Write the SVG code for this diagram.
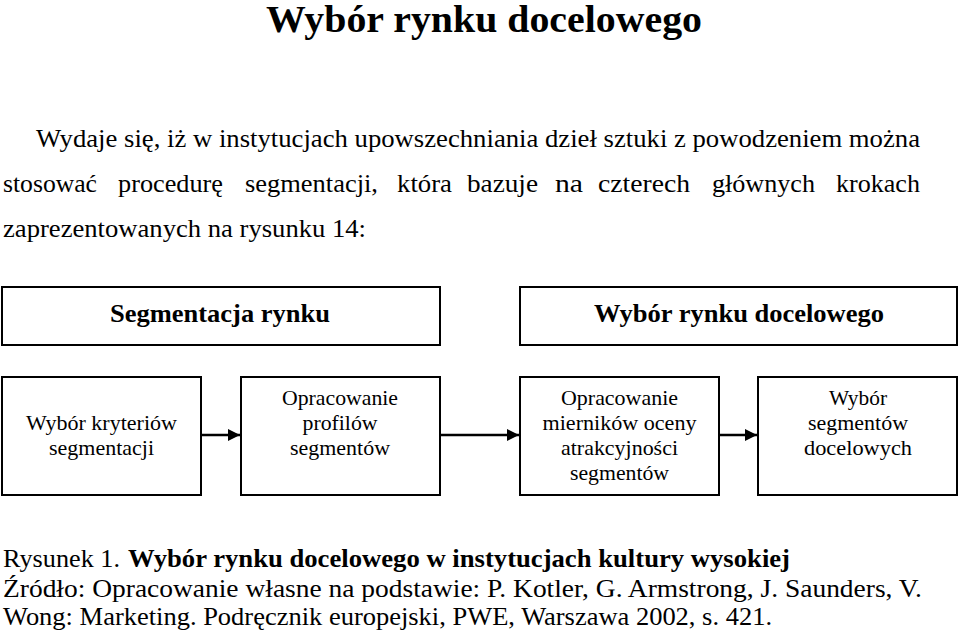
<svg xmlns="http://www.w3.org/2000/svg" width="959" height="636" viewBox="0 0 959 636">
<style>
  text { font-family: "Liberation Serif", "Times New Roman", serif; fill: #000; }
  .title { font-size: 37px; font-weight: bold; }
  .para { font-size: 26px; }
  .head { font-size: 26px; font-weight: bold; text-anchor: middle; }
  .box { font-size: 21px; text-anchor: middle; }
  .cap { font-size: 26px; }
  .b { font-weight: bold; }
  rect { fill: #fff; stroke: #000; stroke-width: 2; }
  .conn line { stroke: #000; stroke-width: 2.5; }
</style>
<defs>
  <marker id="arr" viewBox="0 0 10 10" refX="10" refY="5" markerWidth="5" markerHeight="5" orient="auto" markerUnits="strokeWidth">
    <path d="M0,0 L10,5 L0,10 z" fill="#000"/>
  </marker>
</defs>
<rect x="0" y="0" width="959" height="636" style="fill:#fff;stroke:none"/>

<text class="title" x="266" y="32" textLength="436" lengthAdjust="spacingAndGlyphs">Wybór rynku docelowego</text>

<g id="paragraph">
  <text class="para" x="36" y="147" textLength="884" lengthAdjust="spacingAndGlyphs">Wydaje się, iż w instytucjach upowszechniania dzieł sztuki z powodzeniem można</text>
  <text class="para" y="192"><tspan x="3" textLength="94" lengthAdjust="spacingAndGlyphs">stosować</tspan><tspan x="118" textLength="105" lengthAdjust="spacingAndGlyphs">procedurę</tspan><tspan x="245" textLength="133" lengthAdjust="spacingAndGlyphs">segmentacji,</tspan><tspan x="397" textLength="55" lengthAdjust="spacingAndGlyphs">która</tspan><tspan x="467" textLength="71" lengthAdjust="spacingAndGlyphs">bazuje</tspan><tspan x="555" textLength="28" lengthAdjust="spacingAndGlyphs">na</tspan><tspan x="598" textLength="92" lengthAdjust="spacingAndGlyphs">czterech</tspan><tspan x="712" textLength="103" lengthAdjust="spacingAndGlyphs">głównych</tspan><tspan x="836" textLength="84" lengthAdjust="spacingAndGlyphs">krokach</tspan></text>
  <text class="para" x="3" y="237" textLength="363" lengthAdjust="spacingAndGlyphs">zaprezentowanych na rysunku 14:</text>
</g>

<g id="segmentacja">
  <rect x="2" y="287" width="438" height="58"/>
  <text class="head" x="220" y="322" textLength="220" lengthAdjust="spacingAndGlyphs">Segmentacja rynku</text>
</g>
<g id="wybor-rynku">
  <rect x="520" y="287" width="437" height="58"/>
  <text class="head" x="739" y="322" textLength="290" lengthAdjust="spacingAndGlyphs">Wybór rynku docelowego</text>
</g>

<g id="n1">
  <rect x="2" y="377" width="199" height="118"/>
  <text class="box" x="101.5" y="430" textLength="151" lengthAdjust="spacingAndGlyphs">Wybór kryteriów</text>
  <text class="box" x="101.5" y="455" textLength="105" lengthAdjust="spacingAndGlyphs">segmentacji</text>
</g>
<g id="n2">
  <rect x="241" y="377" width="199" height="118"/>
  <text class="box" x="340" y="405" textLength="116" lengthAdjust="spacingAndGlyphs">Opracowanie</text>
  <text class="box" x="340" y="430" textLength="75" lengthAdjust="spacingAndGlyphs">profilów</text>
  <text class="box" x="340" y="455" textLength="100" lengthAdjust="spacingAndGlyphs">segmentów</text>
</g>
<g id="n3">
  <rect x="520" y="377" width="199" height="118"/>
  <text class="box" x="619.5" y="405" textLength="117" lengthAdjust="spacingAndGlyphs">Opracowanie</text>
  <text class="box" x="619.5" y="430" textLength="154" lengthAdjust="spacingAndGlyphs">mierników oceny</text>
  <text class="box" x="619.5" y="455" textLength="117" lengthAdjust="spacingAndGlyphs">atrakcyjności</text>
  <text class="box" x="619.5" y="480" textLength="99" lengthAdjust="spacingAndGlyphs">segmentów</text>
</g>
<g id="n4">
  <rect x="758" y="377" width="199" height="118"/>
  <text class="box" x="858" y="405" textLength="58" lengthAdjust="spacingAndGlyphs">Wybór</text>
  <text class="box" x="858" y="430" textLength="100" lengthAdjust="spacingAndGlyphs">segmentów</text>
  <text class="box" x="858" y="455" textLength="108" lengthAdjust="spacingAndGlyphs">docelowych</text>
</g>

<g class="conn" id="connectors">
  <line x1="201" y1="435" x2="240" y2="435" marker-end="url(#arr)"/>
  <line x1="440" y1="435" x2="519" y2="435" marker-end="url(#arr)"/>
  <line x1="719" y1="435" x2="757" y2="435" marker-end="url(#arr)"/>
</g>

<g id="caption">
  <text class="cap" y="567"><tspan x="3" textLength="117" lengthAdjust="spacingAndGlyphs">Rysunek 1.</tspan><tspan class="b" x="128" textLength="662" lengthAdjust="spacingAndGlyphs">Wybór rynku docelowego w instytucjach kultury wysokiej</tspan></text>
  <text class="cap" x="3" y="597" textLength="919" lengthAdjust="spacingAndGlyphs">Źródło: Opracowanie własne na podstawie: P. Kotler, G. Armstrong, J. Saunders, V.</text>
  <text class="cap" x="3" y="625" textLength="769" lengthAdjust="spacingAndGlyphs">Wong: Marketing. Podręcznik europejski, PWE, Warszawa 2002, s. 421.</text>
</g>
</svg>
